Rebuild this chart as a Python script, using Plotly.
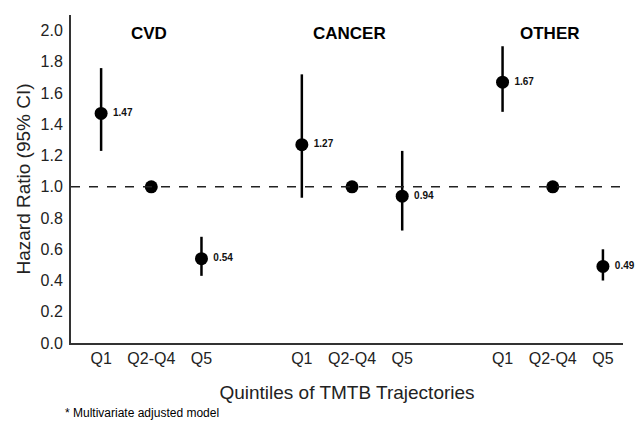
import plotly.graph_objects as go

groups = ["CVD", "CANCER", "OTHER"]
quintiles = ["Q1", "Q2-Q4", "Q5"]
x_pos = [0, 1, 2, 4, 5, 6, 8, 9, 10]
tick_labels = ["Q1", "Q2-Q4", "Q5"] * 3
hr = [1.47, 1.00, 0.54, 1.27, 1.00, 0.94, 1.67, 1.00, 0.49]
ci_low = [1.23, 1.00, 0.43, 0.93, 1.00, 0.72, 1.48, 1.00, 0.40]
ci_high = [1.76, 1.00, 0.68, 1.72, 1.00, 1.23, 1.90, 1.00, 0.60]
labels = ["1.47", "", "0.54", "1.27", "", "0.94", "1.67", "", "0.49"]
group_centers = [1, 5, 9]

fig = go.Figure()
fig.add_shape(type="line", xref="paper", yref="y", x0=0, x1=1, y0=1, y1=1,
              line=dict(color="#222", width=1.5, dash="dash"))
fig.add_trace(go.Scatter(
    x=x_pos, y=hr, mode="markers+text",
    marker=dict(color="black", size=13),
    error_y=dict(type="data", symmetric=False,
                 array=[h - v for h, v in zip(ci_high, hr)],
                 arrayminus=[v - l for v, l in zip(hr, ci_low)],
                 color="black", thickness=2.5, width=0),
    text=[" " + t if t else "" for t in labels], textposition="middle right",
    textfont=dict(family="Arial, Liberation Sans", size=10, color="#111", weight="bold"),
    showlegend=False, cliponaxis=False, hoverinfo="skip",
))
for g, c in zip(groups, group_centers):
    fig.add_annotation(x=c - 0.05, y=1.98, text="<b>%s</b>" % g, showarrow=False,
                       font=dict(family="Arial, Liberation Sans", size=17, color="black"))
fig.add_annotation(xref="paper", yref="paper", x=-0.015, y=-0.212, xanchor="left", yanchor="middle",
                   text="* Multivariate adjusted model", showarrow=False,
                   font=dict(family="Arial, Liberation Sans", size=12, color="black"))
fig.update_layout(
    width=635, height=421,
    margin=dict(l=71, r=12, t=15, b=78),
    plot_bgcolor="white", paper_bgcolor="white",
    font=dict(family="Arial, Liberation Sans", color="#222"),
    xaxis=dict(range=[-0.6, 10.4], tickmode="array", tickvals=x_pos, ticktext=tick_labels,
               showgrid=False, zeroline=False, showline=True, linecolor="#333", linewidth=2,
               ticks="", tickfont=dict(size=16, color="#222"), automargin=False,
               title=dict(text="Quintiles of TMTB Trajectories", font=dict(size=19, color="#222"), standoff=19)),
    yaxis=dict(range=[0, 2.1], tickmode="array", tickvals=[i / 5 for i in range(11)],
               ticktext=["%.1f" % (i / 5) for i in range(11)],
               showgrid=False, zeroline=False, showline=True, linecolor="#333", linewidth=2,
               ticks="", tickfont=dict(size=16, color="#222"), automargin=False, ticklabelstandoff=3,
               title=dict(text="Hazard Ratio (95% CI)", font=dict(size=19, color="#222"), standoff=5)),
)
fig.write_html("out.html", config={"displayModeBar": False},
               post_script="document.body.style.margin='0';document.body.style.overflow='hidden';")
